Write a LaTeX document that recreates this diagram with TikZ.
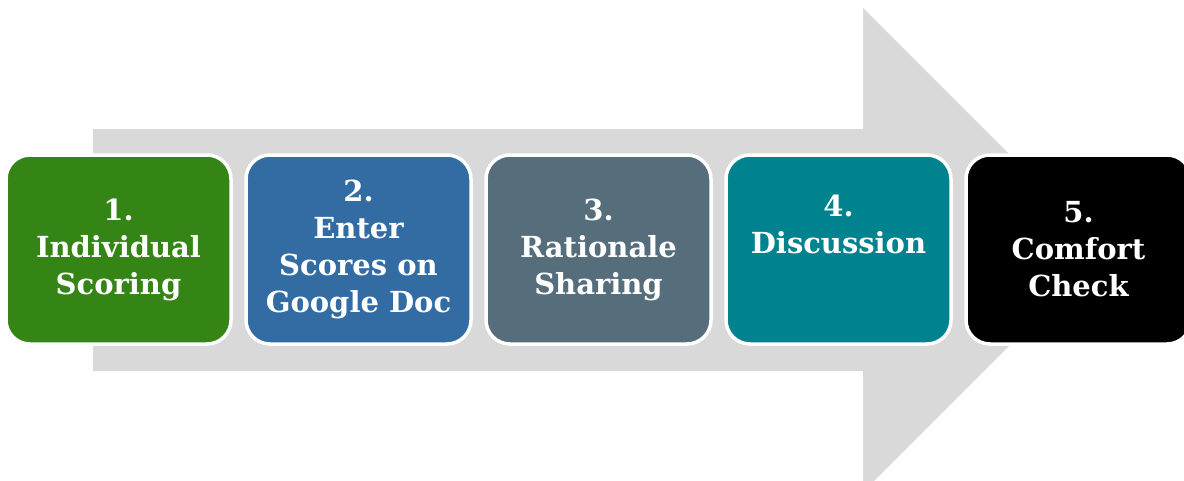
\documentclass[tikz,border=0pt]{standalone}
\usepackage{fontspec}
\setmainfont{DejaVu Serif}
\usepackage{tikz}
\usetikzlibrary{positioning}
\definecolor{arrowgray}{HTML}{D9D9D9}
\definecolor{stepgreen}{HTML}{358516}
\definecolor{stepblue}{HTML}{336CA3}
\definecolor{stepslate}{HTML}{566D7B}
\definecolor{stepteal}{HTML}{00838F}

\begin{document}
\begin{tikzpicture}[x=1pt,y=-1pt,
  stepbox/.style={draw=white,line width=3.5pt,rounded corners=24pt,minimum width=225pt,minimum height=189pt,inner sep=0pt,outer sep=0pt},
  steptext/.style={text=white,font=\fontsize{29}{37}\selectfont\bfseries,align=center}]
 \clip (0,0) rectangle (1184,480);
 \fill[arrowgray] (93,129) -- ++(770,0) -- ++(0,-121) -- (1105,250) -- (863,492) -- ++(0,-121) -- (93,371) -- cycle;

 \node[stepbox,fill=stepgreen] (box1) at (118.5,249.5) {};
 \node[stepbox,fill=stepblue,right=15pt of box1] (box2) {};
 \node[stepbox,fill=stepslate,right=15pt of box2] (box3) {};
 \node[stepbox,fill=stepteal,right=15pt of box3] (box4) {};
 \node[stepbox,fill=black,right=15pt of box4] (box5) {};

 \node[steptext] (txt1) at (box1) {1.\\Individual\\Scoring};
 \node[steptext] (txt2) at (box2) {2.\\Enter\\Scores on\\Google Doc};
 \node[steptext] (txt3) at (box3) {3.\\Rationale\\Sharing};
 \node[steptext,yshift=25pt] (txt4) at (box4) {4.\\Discussion};
 \node[steptext] (txt5) at (box5) {5.\\Comfort\\Check};
\end{tikzpicture}
\end{document}
